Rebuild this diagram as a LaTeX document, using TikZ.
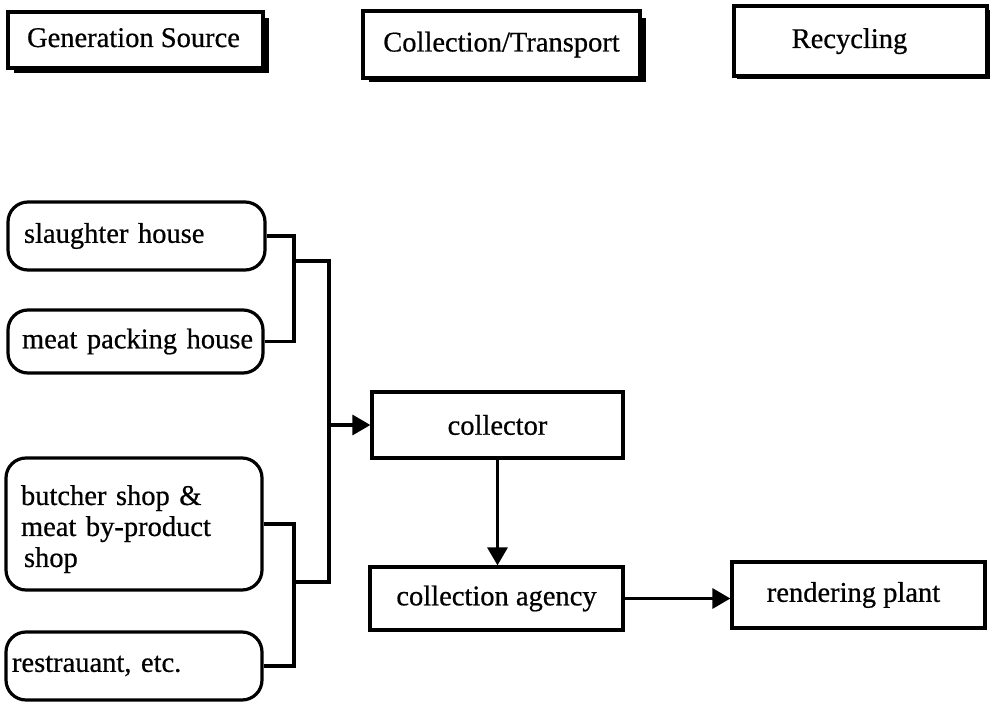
\documentclass[tikz,border=0pt]{standalone}
\usepackage{fontspec}
\setmainfont{Liberation Serif}[FakeBold=0.6]
\usetikzlibrary{arrows.meta}
\begin{document}
\begin{tikzpicture}[x=1pt,y=-1pt,
  every node/.style={font=\fontsize{28.5}{31}\selectfont},
  hdr/.style={draw,line width=3.2pt,fill=white,inner sep=0pt,text height=21pt,text depth=7pt},
  src/.style={draw,line width=3.2pt,rounded corners=20pt,inner ysep=0pt,align=left},
  sqbox/.style={draw,line width=3.2pt,inner sep=0pt,align=center},
  wire/.style={line width=3.2pt},
  arr/.style={line width=3.2pt,-{Triangle[length=18pt,width=20pt]}}]
\useasboundingbox (0,0) rectangle (991,703);
% header shadows
\fill[black] (14,18) rectangle (269,73);
\fill[black] (369,18) rectangle (646,82);
\fill[black] (737,10) rectangle (990,79);
\node[hdr,minimum width=255pt,minimum height=56pt] (gen) at (135.5,40) {Generation Source\hspace*{4pt}};
\node[hdr,minimum width=277pt,minimum height=67pt] (coll) at (501.5,44.5) {Collection/Transport};
\node[hdr,minimum width=253pt,minimum height=70pt] (rec) at (860.5,41) {Recycling\hspace*{22pt}};
% sources
\node[src,inner xsep=16pt,text width=225pt,minimum height=68pt] (sl) at (136.5,236) {slaughter house};
\node[src,inner xsep=14pt,text width=227pt,minimum height=63pt] (mp) at (135.5,341.5) {\mbox{meat packing house}};
\node[src,inner xsep=15pt,text width=226pt,minimum height=132pt] (bu) at (134,524) {\rule{0pt}{30pt}butcher shop \&\\meat by-product\\\hspace*{3pt}shop};
\node[src,inner xsep=6pt,text width=244pt,minimum height=68pt] (re) at (134,666) {restrauant, etc.};
% process boxes
\node[sqbox,minimum width=251pt,minimum height=66pt] (col) at (497.5,425) {collector};
\node[sqbox,minimum width=253pt,minimum height=63pt] (ag) at (496.5,598.5) {collection agency};
\node[sqbox,minimum width=253pt,minimum height=66pt] (rp) at (858.5,595) {rendering plant\hspace*{10pt}};
% junctions
\coordinate (j1) at (294,261);
\coordinate (j2) at (329,261);
\coordinate (j3) at (329,582);
\coordinate (j4) at (294,582);
\draw[wire] (sl.east) -| (j1) |- (mp.east);
\draw[wire] (bu.east) -| (j4) |- (re.east);
\draw[wire] (j1) -- (j2) -- (j3) -- (j4);
\draw[arr] (j2 |- col.west) -- (col.west);
\draw[arr] (col.south) -- (col.south |- ag.north);
\draw[arr] (ag.east) -- (ag.east -| rp.west);
\end{tikzpicture}
\end{document}
